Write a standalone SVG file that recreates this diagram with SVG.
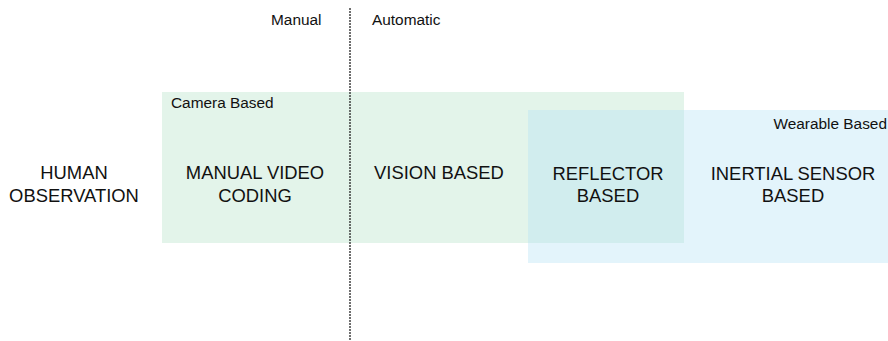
<svg xmlns="http://www.w3.org/2000/svg" width="888" height="341" viewBox="0 0 888 341">
  <style>
    .big { font-family: "Liberation Sans", Arial, sans-serif; font-size: 18.4px; fill: #111; text-anchor: middle; }
    .small { font-family: "Liberation Sans", Arial, sans-serif; font-size: 15.4px; fill: #111; }
    .divider { stroke: #333; stroke-width: 1.4; stroke-dasharray: 2 1; fill: none; }
  </style>
  <rect width="888" height="341" fill="#ffffff"/>

  <!-- group regions -->
  <g id="camera-based">
    <rect x="162" y="92" width="522" height="151" fill="#e3f4ea"/>
    <text class="small" x="171" y="108">Camera Based</text>
  </g>
  <g id="wearable-based">
    <rect x="528" y="110" width="360" height="153" fill="#b4e2f3" fill-opacity="0.37"/>
    <text class="small" x="887" y="129" text-anchor="end">Wearable Based</text>
  </g>

  <!-- manual / automatic divider -->
  <g id="connectors">
    <line class="divider" x1="350" y1="8" x2="350" y2="341"/>
  </g>
  <g id="manual-label">
    <text class="small" x="271" y="25">Manual</text>
  </g>
  <g id="automatic-label">
    <text class="small" x="372" y="25">Automatic</text>
  </g>

  <!-- methods -->
  <g id="human-observation">
    <text class="big" x="74" y="179">HUMAN</text>
    <text class="big" x="74" y="202">OBSERVATION</text>
  </g>
  <g id="manual-video-coding">
    <text class="big" x="255" y="179">MANUAL VIDEO</text>
    <text class="big" x="255" y="202">CODING</text>
  </g>
  <g id="vision-based">
    <text class="big" x="439" y="179">VISION BASED</text>
  </g>
  <g id="reflector-based">
    <text class="big" x="608" y="180">REFLECTOR</text>
    <text class="big" x="608" y="202">BASED</text>
  </g>
  <g id="inertial-sensor-based">
    <text class="big" x="793" y="180">INERTIAL SENSOR</text>
    <text class="big" x="793" y="202">BASED</text>
  </g>
</svg>
